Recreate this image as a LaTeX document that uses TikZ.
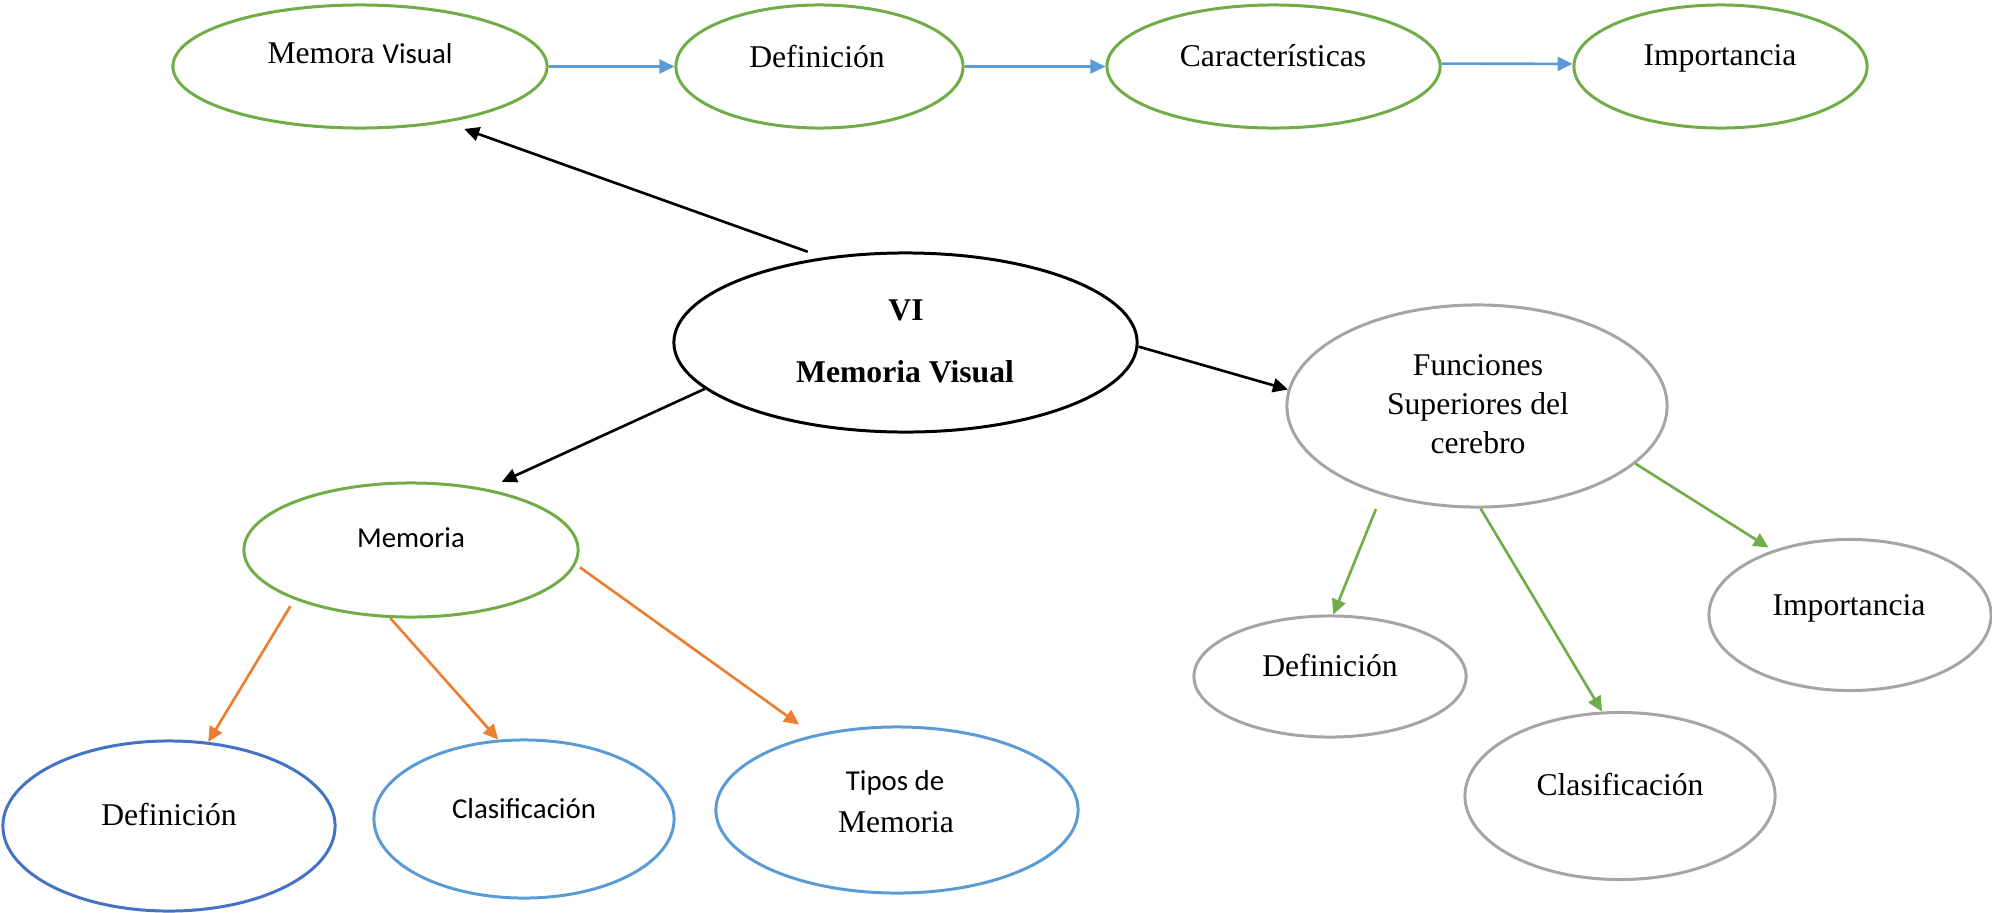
\documentclass[tikz,border=0pt]{standalone}
\usepackage{fontspec}
\setmainfont{Liberation Serif}
\newfontfamily\calfont{Carlito}
\usepackage{tikz}
\usepackage{xcolor}
\usetikzlibrary{shapes.geometric, arrows.meta}
\definecolor{wordgreen}{HTML}{70AD47}
\definecolor{wordblue}{HTML}{5B9BD5}
\definecolor{wordnavy}{HTML}{4472C4}
\definecolor{wordorange}{HTML}{ED7D31}
\definecolor{wordgray}{HTML}{A5A5A5}
\newcommand{\txtsize}{\fontsize{9}{11.1}\selectfont}
\newcommand{\calsize}{\calfont\fontsize{8.2}{11.1}\selectfont}

\begin{document}
\begin{tikzpicture}[x=0.01cm, y=-0.01cm,
    bubble/.style={ellipse, draw, line width=0.85pt, inner sep=0pt},
    lbl/.style={anchor=base, inner sep=0pt, font=\txtsize},
    arr/.style={line width=0.75pt, -{Triangle[length=0.15cm, width=0.14cm]}}]
    \useasboundingbox (0,0) rectangle (1992,912);
    % top row
    \node[bubble, wordgreen, minimum width=3.74cm, minimum height=1.23cm] (mv) at (360,66.5) {};
    \node[bubble, wordgreen, minimum width=2.87cm, minimum height=1.23cm] (def1) at (819.5,66.5) {};
    \node[bubble, wordgreen, minimum width=3.33cm, minimum height=1.23cm] (car) at (1273.5,66.5) {};
    \node[bubble, wordgreen, minimum width=2.93cm, minimum height=1.23cm] (imp1) at (1720.5,66.5) {};
    \node[lbl] (mv-t) at (360,64) {Memora {\calsize Visual}};
    \node[lbl] (def1-t) at (817,67) {Definición};
    \node[lbl] (car-t) at (1273,66) {Características};
    \node[lbl] (imp1-t) at (1720,65) {Importancia};
    % centre
    \node[bubble, black, minimum width=4.63cm, minimum height=1.79cm] (vi) at (905.5,342.5) {};
    \node[lbl, font=\txtsize\bfseries] (vi-a) at (906,320) {VI};
    \node[lbl, font=\txtsize\bfseries] (vi-b) at (905,382) {Memoria Visual};
    % left branch
    \node[bubble, wordgreen, minimum width=3.34cm, minimum height=1.34cm] (mem) at (411,550) {};
    \node[lbl, font=\calsize] (mem-t) at (411,547) {Memoria};
    \node[bubble, wordnavy, minimum width=3.32cm, minimum height=1.70cm] (def2) at (169,826) {};
    \node[bubble, wordblue, minimum width=3.00cm, minimum height=1.58cm] (cla2) at (524,819) {};
    \node[bubble, wordblue, minimum width=3.62cm, minimum height=1.66cm] (tip) at (897,810) {};
    \node[lbl] (def2-t) at (169,825) {Definición};
    \node[lbl, font=\calsize] (cla2-t) at (524,818) {Clasificación};
    \node[lbl, font=\calsize] (tip-a) at (895,790) {Tipos de};
    \node[lbl] (tip-b) at (896,832) {Memoria};
    % right branch
    \node[bubble, wordgray, minimum width=3.80cm, minimum height=2.02cm] (fun) at (1477,406) {};
    \node[lbl] (fun-a) at (1478,375) {Funciones};
    \node[lbl] (fun-b) at (1478,414) {Superiores del};
    \node[lbl] (fun-c) at (1478,453) {cerebro};
    \node[bubble, wordgray, minimum width=2.72cm, minimum height=1.21cm] (def3) at (1330,676.5) {};
    \node[bubble, wordgray, minimum width=3.10cm, minimum height=1.67cm] (cla3) at (1620,796) {};
    \node[bubble, wordgray, minimum width=2.82cm, minimum height=1.51cm] (imp3) at (1850,615) {};
    \node[lbl] (def3-t) at (1330,676) {Definición};
    \node[lbl] (cla3-t) at (1620,795) {Clasificación};
    \node[lbl] (imp3-t) at (1849,615) {Importancia};
    % connectors
    \draw[arr, wordblue] (mv.east) -- (def1.west);
    \draw[arr, wordblue] (def1.east) -- (car.west);
    \draw[arr, wordblue] (car.1) -- (imp1.179);
    \draw[arr, shorten <=0.165cm, shorten >=0.19cm] (vi.134.5) -- (mv.-33.2);
    \draw[arr, shorten >=0.166cm] (vi.193) -- (mem.39);
    \draw[arr] (vi.-1) -- (fun.175);
    \draw[arr, wordorange, shorten <=0.077cm] (mem.203.5) -- (def2.65.4);
    \draw[arr, wordorange] (mem.253) -- (cla2.108);
    \draw[arr, wordorange, shorten <=0.05cm, shorten >=0.177cm] (mem.-5.7) -- (tip.138.2);
    \draw[arr, wordgreen, shorten <=0.152cm] (fun.223.4) -- (def3.87);
    \draw[arr, wordgreen] (fun.272) -- (cla3.102.5);
    \draw[arr, wordgreen, shorten >=0.05cm] (fun.-20.7) -- (imp3.140);
\end{tikzpicture}
\end{document}
